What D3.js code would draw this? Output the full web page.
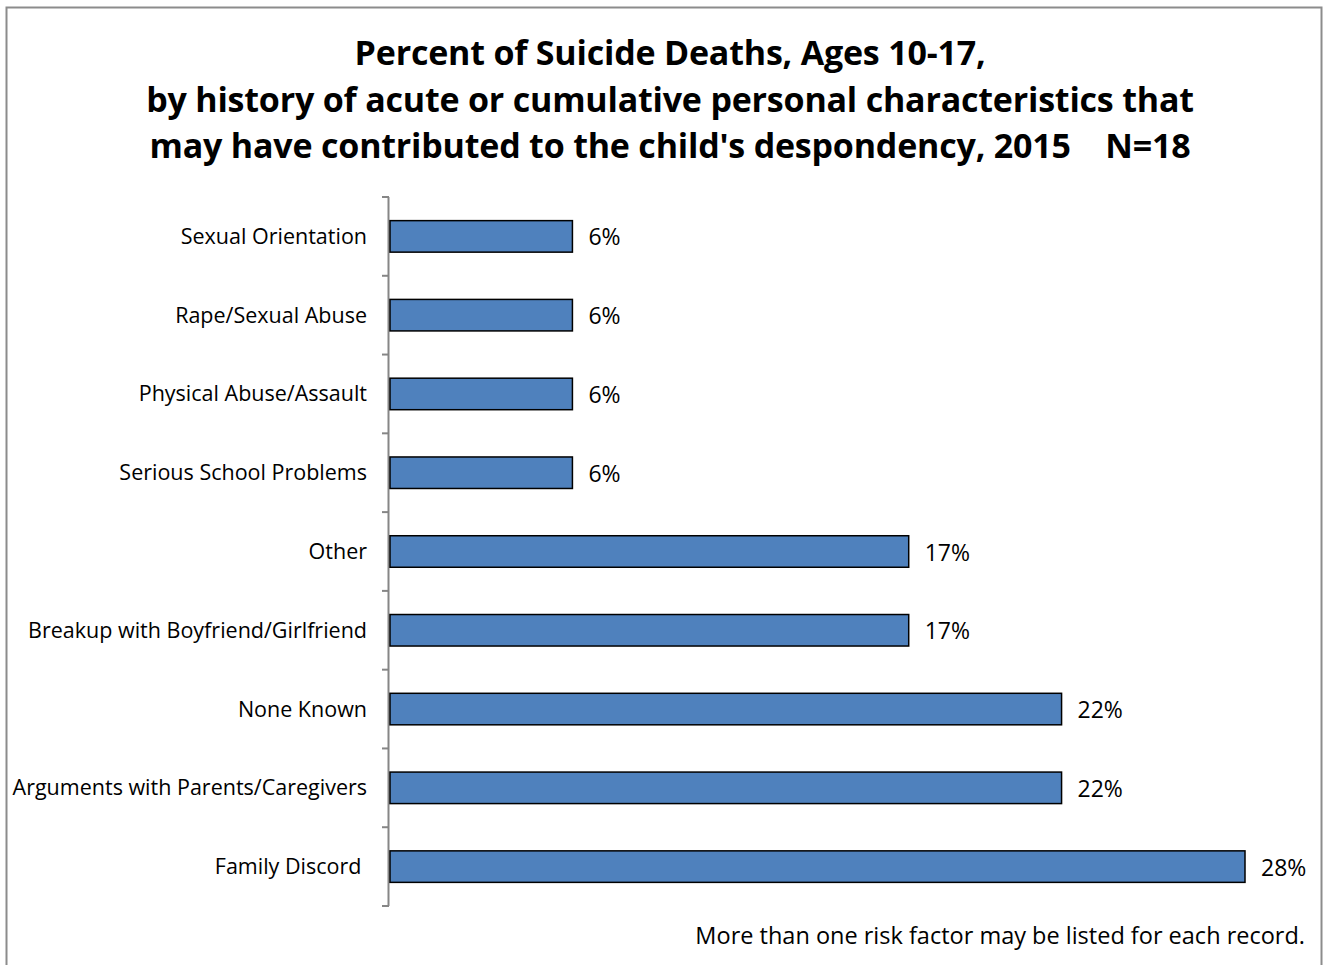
<html>
<head>
<meta charset="utf-8">
<script src="https://d3js.org/d3.v7.min.js"></script>
<style>
  body { margin: 0; background: #fff; }
  text { font-family: "Open Sans", Lato, sans-serif; fill: #000; }
</style>
</head>
<body>
<svg class="chart" width="1333" height="965"></svg>
<script>

// categories, top to bottom
const categories = ["Sexual Orientation", "Rape/Sexual Abuse", "Physical Abuse/Assault",
  "Serious School Problems", "Other", "Breakup with Boyfriend/Girlfriend", "None Known",
  "Arguments with Parents/Caregivers", "Family Discord "];
const percents = [6, 6, 6, 6, 17, 17, 22, 22, 28];
const titleLines = ["Percent of Suicide Deaths, Ages 10-17,",
  "by history of acute or cumulative personal characteristics that",
  "may have contributed to the child's despondency, 2015    N=18"];
const note = "More than one risk factor may be listed for each record.";

const svg = d3.select('.chart')

// outer frame
svg.append("rect")
    .attr("x", 6.5).attr("y", 7.5)
    .attr("width", 1315).attr("height", 1000)
    .attr("fill", "none")
    .attr("stroke", "#8c8c8c")
    .attr("stroke-width", 2)

svg.selectAll(".title")
    .data(titleLines)
  .enter().append("text")
    .attr("class", "title")
    .attr("x", 670)
    .attr("y", (d, i) => 65 + i * 46.5)
    .attr("text-anchor", "middle")
    .style("font-size", "34px")
    .style("font-weight", "bold")
    .style("letter-spacing", "-0.2px")
    .style("white-space", "pre")
    .text(d => d)

let x = d3.scaleLinear()
    .domain([0, 28])
    .range([389, 1245]);

let y = d3.scaleBand()
    .domain(categories)
    .range([197, 906])
    .paddingInner(0.6)
    .paddingOuter(0.3);

// axis with ticks at band edges
const axis = svg.append("g")
axis.append("line")
    .attr("x1", 388.5).attr("x2", 388.5)
    .attr("y1", 197).attr("y2", 906)
    .attr("stroke", "#868686").attr("stroke-width", 2)

const edges = d3.range(categories.length + 1).map(i => 197 + i * (906 - 197) / categories.length)
axis.selectAll(".tick")
    .data(edges)
  .enter().append("line")
    .attr("x1", 382).attr("x2", 389)
    .attr("y1", d => d).attr("y2", d => d)
    .attr("stroke", "#868686").attr("stroke-width", 2)

svg.selectAll(".bar")
    .data(categories)
  .enter().append("rect")
    .attr("x", x(0) + 1)
    .attr("y", d => y(d))
    .attr("width", (d, i) => x(percents[i]) - x(0) - 1)
    .attr("height", y.bandwidth())
    .attr("fill", "#4f81bd")
    .attr("stroke", "#000")
    .attr("stroke-width", 1.5)

svg.selectAll(".cat")
    .data(categories)
  .enter().append("text")
    .attr("x", 367)
    .attr("y", d => y(d) + y.bandwidth() / 2 + 7.5)
    .attr("text-anchor", "end")
    .style("font-size", "21.5px")
    .style("white-space", "pre")
    .text(d => d)

svg.selectAll(".val")
    .data(categories)
  .enter().append("text")
    .attr("x", (d, i) => x(percents[i]) + 16)
    .attr("y", d => y(d) + y.bandwidth() / 2 + 9)
    .style("font-size", "23px")
    .text((d, i) => percents[i] + "%")

svg.append("text")
    .attr("x", 1305)
    .attr("y", 944)
    .attr("text-anchor", "end")
    .style("font-size", "23.5px")
    .text(note)

</script>
</body>
</html>
